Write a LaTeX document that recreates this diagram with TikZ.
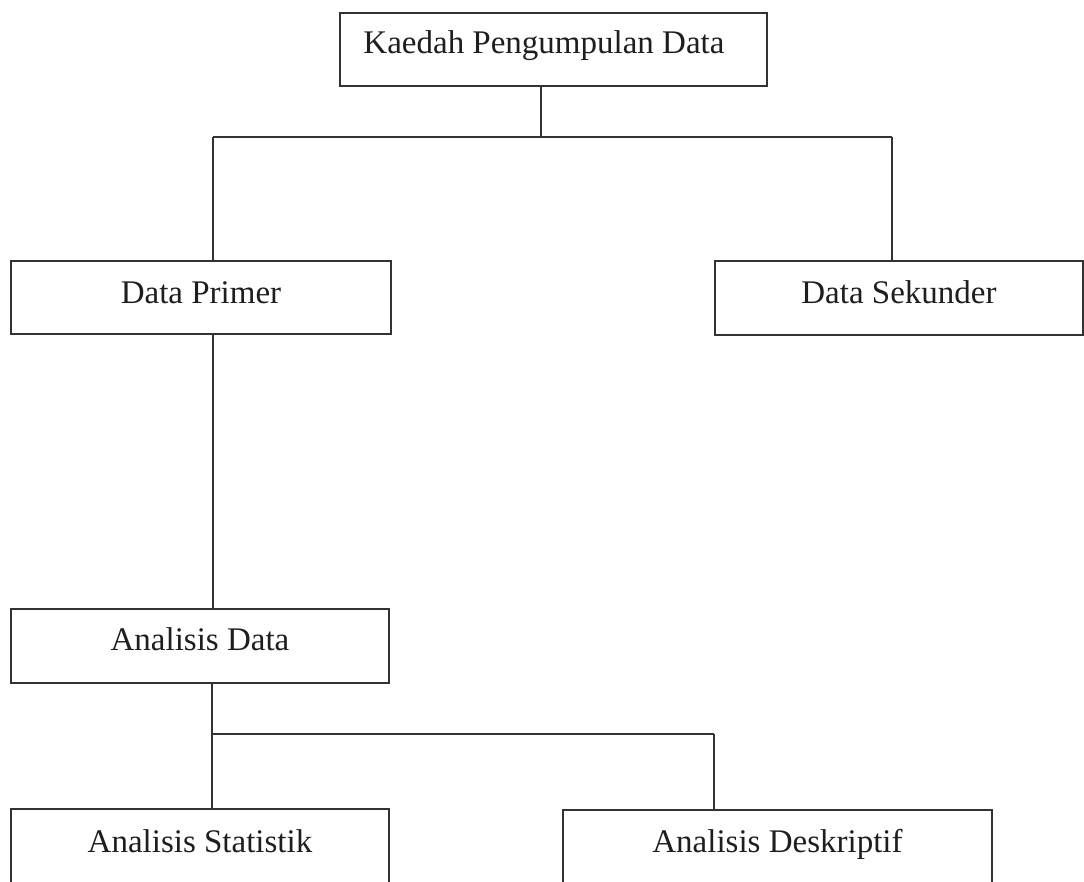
\documentclass[tikz,border=0pt]{standalone}
\usepackage{fontspec}
\setmainfont{Liberation Serif}
\definecolor{ink}{HTML}{333333}
\definecolor{txt}{HTML}{1E1E1E}
\tikzset{
  box/.style={draw=ink, line width=1.8pt, rectangle, inner sep=0pt, anchor=base,
    font=\fontsize{33}{40}\selectfont, text=txt},
  conn/.style={draw=ink, line width=1.8pt}
}
\begin{document}
\begin{tikzpicture}[x=1pt,y=-1pt]
\useasboundingbox (0,0) rectangle (1084,881);
\clip (0,0) rectangle (1084,881);
\fill[white] (0,0) rectangle (1084,881);

\node[box, minimum width=427pt, text height=40pt, text depth=33pt] (k) at (553.5,53) {\kern-19pt Kaedah Pengumpulan Data};
\node[box, minimum width=380pt, text height=42pt, text depth=31pt] (dp) at (201,303) {Data Primer};
\node[box, minimum width=368pt, text height=42pt, text depth=32pt] (ds) at (899,303) {Data Sekunder};
\node[box, minimum width=378pt, text height=41pt, text depth=33pt] (ad) at (200,650) {Analisis Data};
\node[box, minimum width=378pt, text height=43pt, text depth=33pt] (as) at (200,852) {Analisis Statistik};
\node[box, minimum width=429pt, text height=42pt, text depth=33pt] (ade) at (777.5,852) {Analisis Deskriptif};

\coordinate (j1) at (541,137);
\coordinate (jl) at (213,137);
\coordinate (jr) at (892,137);
\coordinate (j2) at (212,734);
\coordinate (j3) at (714,734);

\draw[conn] (k.south -| j1) -- (j1);
\draw[conn] (jl) -- (jr);
\draw[conn] (jl) -- (jl |- dp.north);
\draw[conn] (jr) -- (jr |- ds.north);
\draw[conn] (dp.south -| jl) -- (ad.north -| jl);
\draw[conn] (ad.south -| j2) -- (as.north -| j2);
\draw[conn] (j2) -- (j3);
\draw[conn] (j3) -- (j3 |- ade.north);
\end{tikzpicture}
\end{document}
